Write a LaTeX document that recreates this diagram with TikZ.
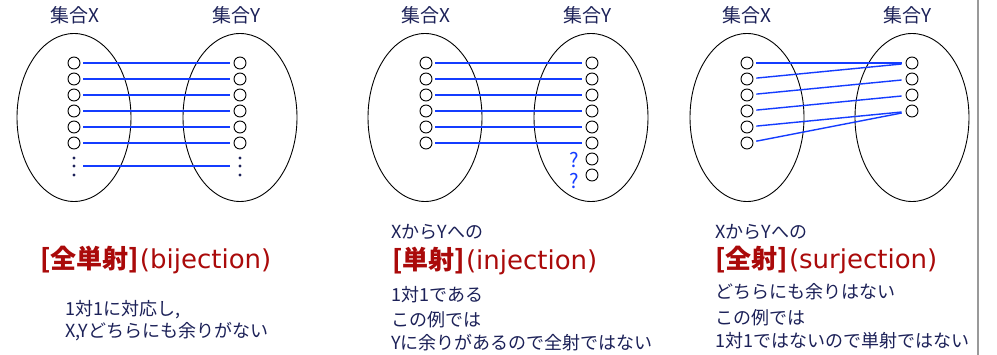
\documentclass[tikz,border=0pt]{standalone}
\usepackage{fontspec}
\setmainfont{Noto Sans CJK JP}
\newfontfamily\latinwide{DejaVu Sans}
\usetikzlibrary{shapes.geometric}
\definecolor{navy}{RGB}{28,33,88}
\definecolor{titlered}{RGB}{170,10,10}
\definecolor{mapblue}{RGB}{20,60,255}
\begin{document}
\begin{tikzpicture}[x=1pt,y=-1pt,
  setlabel/.style={text=navy,font=\fontsize{19}{22}\selectfont,inner sep=0},
  setshape/.style={ellipse,draw=black,line width=0.9,minimum width=114,minimum height=168,inner sep=0},
  pt/.style={circle,draw=black,line width=0.9,inner sep=0,minimum size=12},
  dot/.style={circle,fill=navy,inner sep=0,minimum size=3.2},
  map/.style={draw=mapblue,line width=1.4,shorten <=3,shorten >=4},
  dotmap/.style={draw=mapblue,line width=1.4,shorten <=7.5,shorten >=8.5},
  qmark/.style={text=mapblue,font=\fontsize{20}{22}\selectfont,inner sep=0},
  title/.style={anchor=west,inner sep=0,text=titlered},
  body/.style={anchor=west,inner sep=0,text=navy,font=\fontsize{18}{22}\selectfont}]
\useasboundingbox (0,0) rectangle (997,355);
\fill[white] (0,0) rectangle (997,355);

% ---------- diagram 1 : bijection ----------
\node[setlabel] (l1x) at (75,15) {集合X};
\node[setlabel] (l1y) at (237,15) {集合Y};
\node[setshape] (e1x) at (74,117.5) {};
\node[setshape] (e1y) at (240,117.5) {};
\foreach \i/\y in {1/63,2/79,3/95,4/111,5/127,6/143}{
  \node[pt] (a\i) at (74,\y) {};
  \node[pt] (b\i) at (240,\y) {};
  \draw[map] (a\i) -- (b\i);
}
\node[dot] (ad1) at (74,158) {};
\node[dot] (ad2) at (74,166) {};
\node[dot] (ad3) at (74,175) {};
\node[dot] (bd1) at (240,158) {};
\node[dot] (bd2) at (240,166) {};
\node[dot] (bd3) at (240,175) {};
\draw[dotmap] (ad2) -- (bd2);

% ---------- diagram 2 : injection ----------
\node[setlabel] (l2x) at (426,15) {集合X};
\node[setlabel] (l2y) at (588,15) {集合Y};
\node[setshape] (e2x) at (425,117.5) {};
\node[setshape] (e2y) at (591,117.5) {};
\foreach \i/\y in {1/63,2/79,3/95,4/111,5/127,6/143}{
  \node[pt] (c\i) at (426,\y) {};
}
\foreach \i/\y in {1/63,2/79,3/95,4/111,5/127,6/143,7/159,8/175}{
  \node[pt] (d\i) at (592,\y) {};
}
\foreach \i in {1,...,6}{ \draw[map] (c\i) -- (d\i); }
\node[qmark] (q1) at (574,160) {?};
\node[qmark] (q2) at (574,181) {?};

% ---------- diagram 3 : surjection ----------
\node[setlabel] (l3x) at (747,15) {集合X};
\node[setlabel] (l3y) at (908,15) {集合Y};
\node[setshape] (e3x) at (747,117.5) {};
\node[setshape] (e3y) at (912,117.5) {};
\foreach \i/\y in {1/63,2/79,3/95,4/111,5/127,6/143}{
  \node[pt] (f\i) at (747,\y) {};
}
\foreach \i/\y in {1/63,2/79,3/95,4/111}{
  \node[pt] (g\i) at (912,\y) {};
}
\draw[map] (f1) -- (g1);
\draw[map] (f2) -- (g1);
\draw[map] (f3) -- (g2);
\draw[map] (f4) -- (g3);
\draw[map] (f5) -- (g4);
\draw[map] (f6) -- (g4);

% separator
\draw[line width=2,draw=gray!80] (978,0) -- (978,355);

% ---------- texts ----------
\node[title] (t1) at (40,260) {{\fontsize{26}{28}\selectfont\bfseries [全単射]}\hspace{1pt}{\latinwide\fontsize{26}{28}\selectfont (bijection)}};
\node[body] (t1a) at (65,310) {1対1に対応し,};
\node[body] (t1b) at (65,332) {X,Yどちらにも余りがない};

\node[body] (t2a) at (391,232) {XからYへの};
\node[title] (t2) at (392,261) {{\fontsize{26}{28}\selectfont\bfseries [単射]}\hspace{1pt}{\latinwide\fontsize{26}{28}\selectfont (injection)}};
\node[body] (t2b) at (391,295) {1対1である};
\node[body] (t2c) at (391,320) {この例では};
\node[body] (t2d) at (391,343) {Yに余りがあるので全射ではない};

\node[body] (t3a) at (715,232) {XからYへの};
\node[title] (t3) at (715,260) {{\fontsize{26}{28}\selectfont\bfseries [全射]}\hspace{1pt}{\latinwide\fontsize{26}{28}\selectfont (surjection)}};
\node[body] (t3b) at (715,292) {どちらにも余りはない};
\node[body] (t3c) at (715,318) {この例では};
\node[body] (t3d) at (715,341) {1対1ではないので単射ではない};
\end{tikzpicture}
\end{document}
